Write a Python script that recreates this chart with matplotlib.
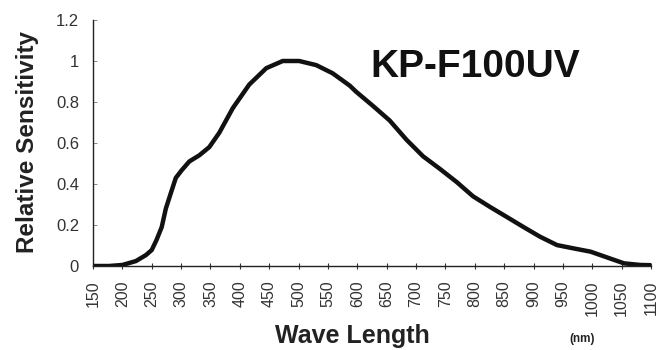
import matplotlib.pyplot as plt
import numpy as np

plt.rcParams['font.family'] = ['Liberation Sans', 'DejaVu Sans']

# spectral response
wave = [150, 177, 200, 223, 240, 250, 258, 267, 274, 283, 291, 301, 314,
        331, 348, 365, 388, 416, 445, 473, 501, 530, 558, 587, 598, 627,
        655, 684, 712, 740, 769, 797, 826, 854, 883, 911, 940, 968, 997,
        1025, 1054, 1082, 1100]
sens = [0.0, 0.0, 0.005, 0.024, 0.053, 0.078, 0.126, 0.19, 0.28, 0.36,
        0.43, 0.467, 0.51, 0.54, 0.58, 0.65, 0.77, 0.885, 0.965, 1.0, 1.0,
        0.98, 0.94, 0.88, 0.85, 0.78, 0.71, 0.615, 0.535, 0.475, 0.41, 0.34,
        0.288, 0.24, 0.19, 0.143, 0.102, 0.086, 0.07, 0.042, 0.013, 0.005,
        0.004]

xticks = list(range(150, 1101, 50))
yticks = [0, 0.2, 0.4, 0.6, 0.8, 1, 1.2]
ytick_labels = ['0', '0.2', '0.4', '0.6', '0.8', '1', '1.2']

fig = plt.figure(figsize=(6.63, 3.5), dpi=100)
ax = fig.add_axes([93 / 663, 84 / 350, (651 - 93) / 663, (266 - 20) / 350])

ax.plot(wave, sens, color='#111111', lw=3.2, solid_joinstyle='round',
        solid_capstyle='round')

ax.set_xlim(150, 1100)
ax.set_ylim(0, 1.2)
ax.set_xticks(xticks)
ax.set_xticklabels([str(t) for t in xticks], rotation=90, fontsize=11.5,
                   color='#333333')
ax.set_yticks(yticks)
ax.set_yticklabels(ytick_labels, fontsize=12, color='#333333')
ax.tick_params(axis='x', direction='inout', length=5, width=0.8, pad=8,
               color='#333333')
ax.tick_params(axis='y', direction='in', length=3, width=0.6, pad=10,
               color='#777777')

for s in ['top', 'right']:
    ax.spines[s].set_visible(False)
for s in ['left', 'bottom']:
    ax.spines[s].set_linewidth(1.0)
    ax.spines[s].set_color('#222222')

fig.text(28 / 663, 1 - 142 / 350, 'Relative Sensitivity', rotation=90,
         fontsize=17.5, fontweight='bold', ha='center', va='center',
         color='#222222')
fig.text(352 / 663, 1 - 336 / 350, 'Wave Length', fontsize=18,
         fontweight='bold', ha='center', va='center', color='#222222')
fig.text(582 / 663, 1 - 339 / 350, '(nm)', fontsize=8.5, fontweight='bold',
         ha='center', va='center', color='#222222')
fig.text(475 / 663, 1 - 67 / 350, 'KP-F100UV', fontsize=28,
         fontweight='bold', ha='center', va='center', color='#111111')

fig.savefig('out.png', dpi=100)
